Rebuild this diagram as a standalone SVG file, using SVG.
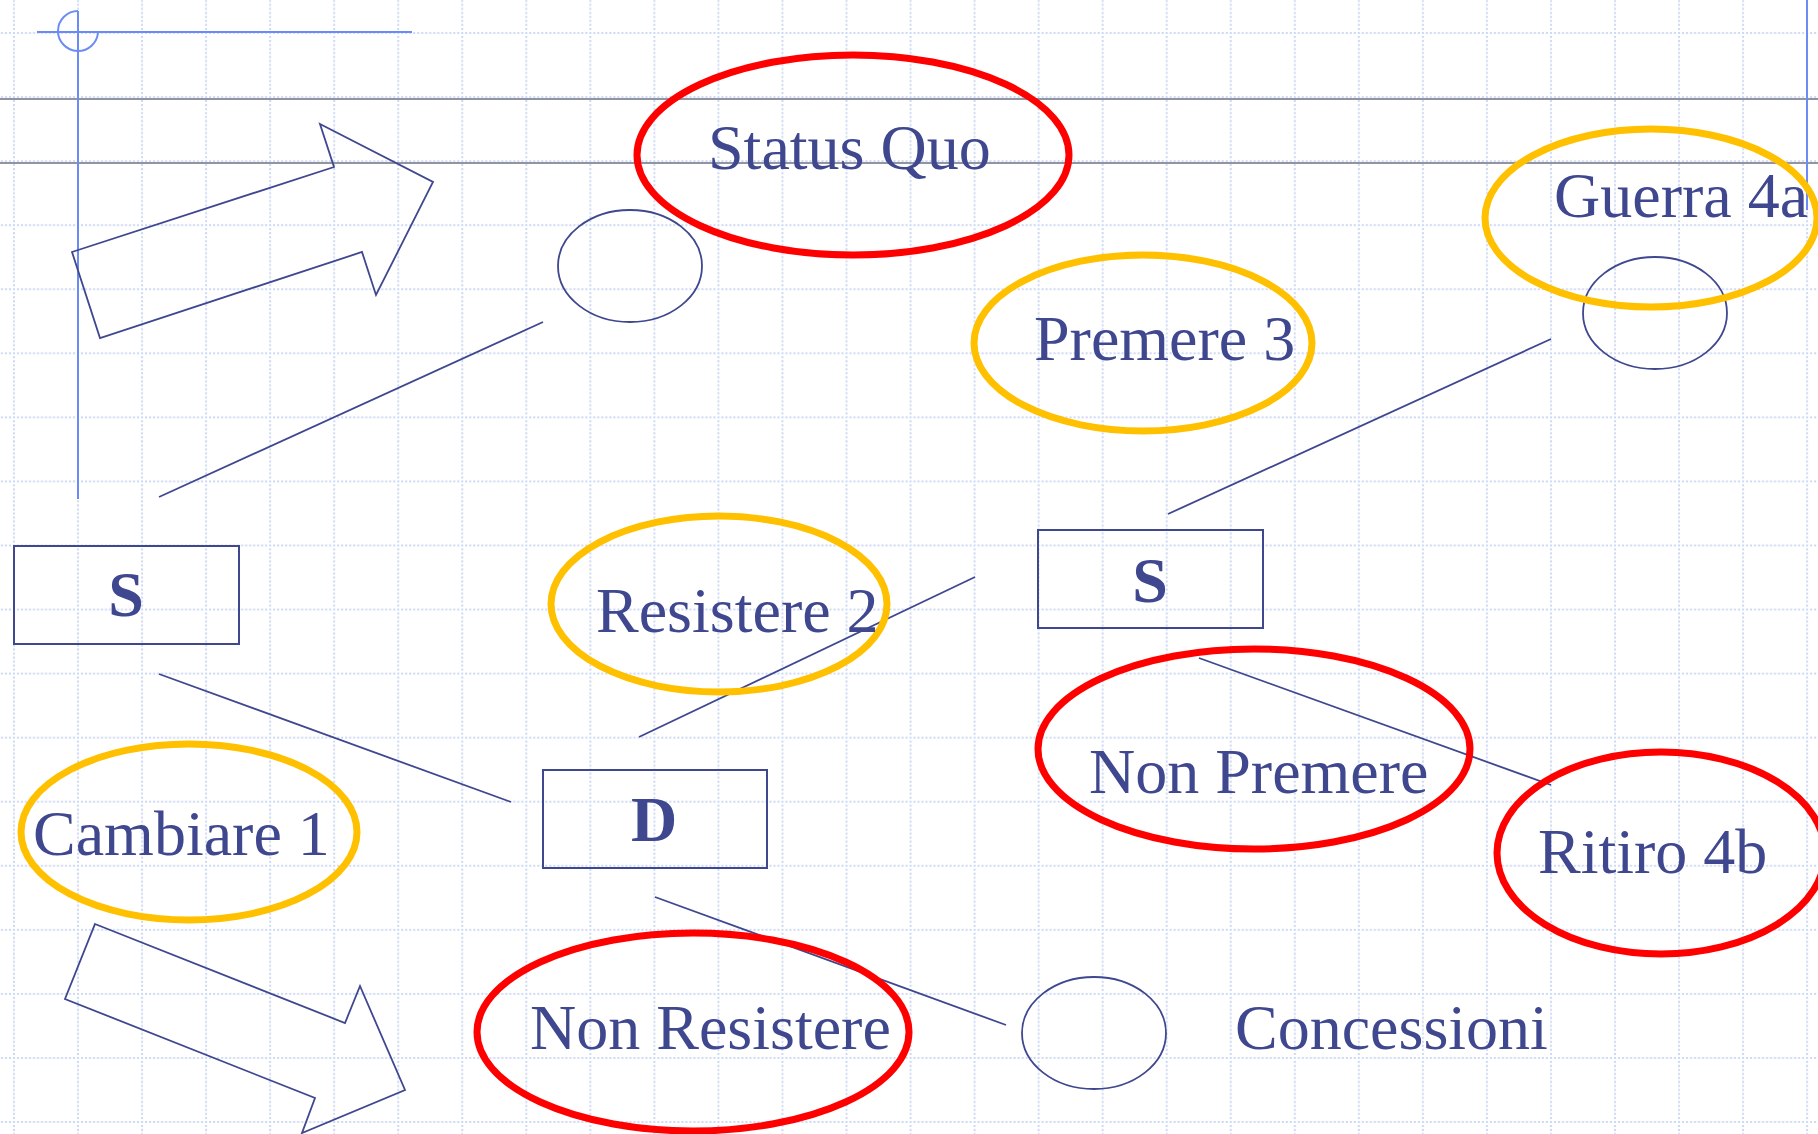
<svg xmlns="http://www.w3.org/2000/svg" width="1818" height="1134" viewBox="0 0 1818 1134">
<defs>
<pattern id="grid" patternUnits="userSpaceOnUse" x="13" y="32" width="64.04" height="64.06">
<line x1="1" y1="0" x2="1" y2="64.06" stroke="#cdd8f4" stroke-width="2" stroke-dasharray="2 2"/>
<line x1="0" y1="1" x2="64.04" y2="1" stroke="#cdd8f4" stroke-width="2" stroke-dasharray="2 2"/>
</pattern>
</defs>
<style>
.t{font-family:"Liberation Serif","Times New Roman",serif;fill:#3f478f;font-size:64px}
.b{font-family:"Liberation Serif","Times New Roman",serif;fill:#3f478f;font-size:64px;font-weight:bold;text-anchor:middle}
.red{fill:none;stroke:#ff0000;stroke-width:7}
.yel{fill:none;stroke:#ffc000;stroke-width:7}
.thin{fill:none;stroke:#3f478f;stroke-width:1.8}
.box{fill:none;stroke:#3f478f;stroke-width:2}
.ln{stroke:#3f478f;stroke-width:1.8}
.guide{stroke:#6b8cf2;stroke-width:2;fill:none}
</style>
<rect width="1818" height="1134" fill="#ffffff"/>
<rect width="1818" height="1134" fill="url(#grid)"/>
<line x1="0" y1="99" x2="1818" y2="99" stroke="#6e7082" stroke-width="1.5"/>
<line x1="0" y1="163" x2="1818" y2="163" stroke="#6e7082" stroke-width="1.5"/>
<g id="guides">
<line class="guide" x1="37" y1="32" x2="412" y2="32"/>
<line class="guide" x1="78" y1="11" x2="78" y2="499" stroke-width="2.5"/>
<path class="guide" d="M78 11 A20 20 0 1 0 98 32"/>
<line class="guide" x1="1807" y1="0" x2="1807" y2="210"/>
</g>
<g id="arrow-top"><polygon class="thin" points="72,252 334,167 320,124 433,182 376,295 362,252 100,338"/></g>
<g id="arrow-bottom"><polygon class="thin" points="95,924 345,1023 360,986 405,1090 302,1133 315,1098 65,999"/></g>
<g id="connectors">
<line class="ln" x1="159" y1="497" x2="543" y2="322"/>
<line class="ln" x1="159" y1="674" x2="511" y2="802"/>
<line class="ln" x1="639" y1="737" x2="975" y2="577"/>
<line class="ln" x1="1168" y1="514" x2="1551" y2="339"/>
<line class="ln" x1="1199" y1="658" x2="1551" y2="785"/>
<line class="ln" x1="655" y1="897" x2="1006" y2="1025"/>
</g>
<g id="node-circle-top"><ellipse class="thin" cx="630" cy="266" rx="72" ry="56"/></g>
<g id="node-circle-right"><ellipse class="thin" cx="1655" cy="313" rx="72" ry="56"/></g>
<g id="node-circle-bottom"><ellipse class="thin" cx="1094" cy="1033" rx="72" ry="56"/></g>
<g id="node-status-quo"><ellipse class="red" cx="853" cy="155" rx="216" ry="100"/><text class="t" x="708" y="169">Status Quo</text></g>
<g id="node-guerra"><ellipse class="yel" cx="1651" cy="218" rx="166" ry="89"/><text class="t" x="1554" y="217">Guerra 4a</text></g>
<g id="node-premere"><ellipse class="yel" cx="1143" cy="343" rx="169" ry="88"/><text class="t" x="1034" y="360">Premere 3</text></g>
<g id="node-resistere"><ellipse class="yel" cx="719" cy="604" rx="168" ry="88"/><text class="t" x="596" y="632">Resistere 2</text></g>
<g id="node-non-premere"><ellipse class="red" cx="1254" cy="749" rx="216" ry="100"/><text class="t" x="1089" y="793">Non Premere</text></g>
<g id="node-ritiro"><ellipse class="red" cx="1661" cy="853" rx="164" ry="101"/><text class="t" x="1538" y="873">Ritiro 4b</text></g>
<g id="node-cambiare"><ellipse class="yel" cx="189" cy="832" rx="168" ry="88"/><text class="t" x="33" y="855">Cambiare 1</text></g>
<g id="node-non-resistere"><ellipse class="red" cx="693" cy="1032" rx="216" ry="99"/><text class="t" x="530" y="1049">Non Resistere</text></g>
<g id="node-concessioni"><text class="t" x="1235" y="1049">Concessioni</text></g>
<g id="node-s-left"><rect class="box" x="14" y="546" width="225" height="98"/><text class="b" x="126" y="616">S</text></g>
<g id="node-s-right"><rect class="box" x="1038" y="530" width="225" height="98"/><text class="b" x="1150" y="602">S</text></g>
<g id="node-d"><rect class="box" x="543" y="770" width="224" height="98"/><text class="b" x="654" y="841">D</text></g>
</svg>
